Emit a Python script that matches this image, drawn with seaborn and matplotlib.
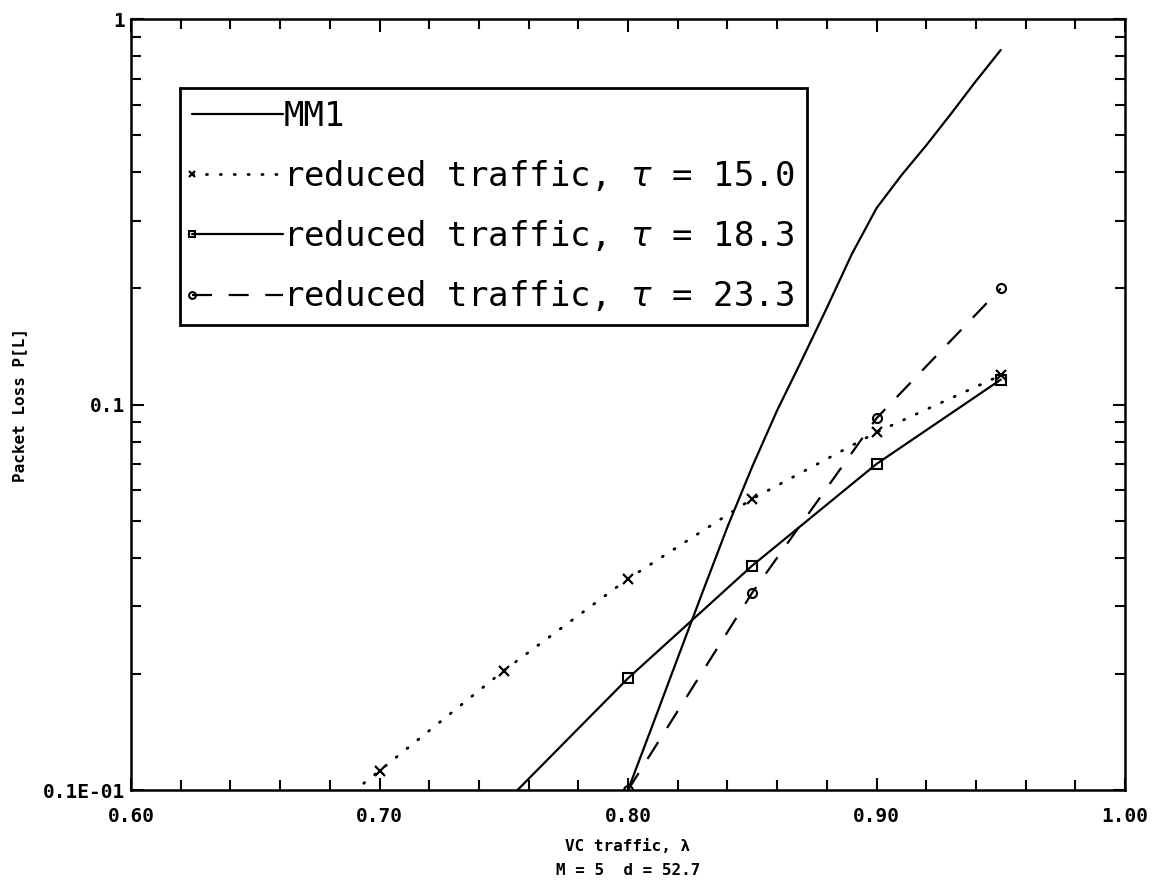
import numpy as np
import pandas as pd
import matplotlib
matplotlib.use("Agg")
import matplotlib.pyplot as plt
import seaborn as sns
from matplotlib.lines import Line2D
from matplotlib.legend_handler import HandlerLine2D
from matplotlib.ticker import LogLocator, FixedLocator, NullFormatter, FixedFormatter

# ---------------- data ----------------
mm1_x = [0.79, 0.80, 0.81, 0.82, 0.83, 0.84, 0.85, 0.86, 0.87, 0.88, 0.89,
         0.90, 0.91, 0.92, 0.93, 0.94, 0.95]
mm1_y = [0.0068, 0.0100, 0.0148, 0.0220, 0.0326, 0.0481, 0.0690, 0.0965, 0.1306,
         0.178, 0.245, 0.323, 0.393, 0.470, 0.568, 0.690, 0.831]

t150_x = [0.65, 0.70, 0.75, 0.80, 0.85, 0.90, 0.95]
t150_y = [0.0062, 0.01122, 0.0204, 0.0353, 0.0569, 0.0847, 0.119]

t183_x = [0.75, 0.80, 0.85, 0.90, 0.95]
t183_y = [0.0092, 0.01949, 0.0382, 0.0701, 0.116]

t233_x = [0.80, 0.85, 0.90, 0.95]
t233_y = [0.0100, 0.0325, 0.0921, 0.200]

labels = ["MM1",
          r"reduced traffic, $\tau$ = 15.0",
          r"reduced traffic, $\tau$ = 18.3",
          r"reduced traffic, $\tau$ = 23.3"]

x_ticks = [0.60, 0.70, 0.80, 0.90, 1.00]
x_ticklabels = ["0.60", "0.70", "0.80", "0.90", "1.00"]
y_ticks = [0.01, 0.1, 1.0]
y_ticklabels = ["0.1E-01", "0.1", "1"]

# ---------------- style ----------------
sns.set_style("ticks")
plt.rcParams["font.family"] = ["DejaVu Sans"]
plt.rcParams["mathtext.fontset"] = "dejavusans"
plt.rcParams["text.color"] = "black"
plt.rcParams["axes.labelcolor"] = "black"
plt.rcParams["xtick.color"] = "black"
plt.rcParams["ytick.color"] = "black"

fig = plt.figure(figsize=(11.54, 8.81), dpi=100)
ax = fig.add_axes([131 / 1154, 1 - 790 / 881, 994 / 1154, 771 / 881])

lw = 1.6
sns.lineplot(x=mm1_x, y=mm1_y, ax=ax, color="black", lw=lw, sort=False,
             estimator=None, label=labels[0])
sns.lineplot(x=t150_x, y=t150_y, ax=ax, color="black", lw=2.0, sort=False,
             estimator=None, label=labels[1], marker="x", markersize=6.5,
             markeredgewidth=1.6, markeredgecolor="black",
             linestyle=(0, (0.4, 4.6)), dash_capstyle="round")
sns.lineplot(x=t183_x, y=t183_y, ax=ax, color="black", lw=lw, sort=False,
             estimator=None, label=labels[2], marker="s", markersize=6.5,
             markerfacecolor="none", markeredgecolor="black", markeredgewidth=1.5)
sns.lineplot(x=t233_x, y=t233_y, ax=ax, color="black", lw=lw, sort=False,
             estimator=None, label=labels[3], marker="o", markersize=6.5,
             markerfacecolor="none", markeredgecolor="black", markeredgewidth=1.5,
             linestyle=(0, (9, 7.5)))

ax.set_yscale("log")
ax.set_xlim(0.60, 1.00)
ax.set_ylim(0.01, 1.0)

ax.xaxis.set_major_locator(FixedLocator(x_ticks))
ax.xaxis.set_major_formatter(FixedFormatter(x_ticklabels))
ax.xaxis.set_minor_locator(FixedLocator(np.round(np.arange(0.60, 1.001, 0.02), 2)))
ax.yaxis.set_major_locator(FixedLocator(y_ticks))
ax.yaxis.set_major_formatter(FixedFormatter(y_ticklabels))
ax.yaxis.set_minor_locator(LogLocator(base=10, subs=np.arange(2, 10), numticks=20))
ax.yaxis.set_minor_formatter(NullFormatter())

ax.tick_params(axis="both", which="both", direction="in", top=True, right=True,
               color="black", width=1.5)
ax.tick_params(axis="both", which="major", length=9)
ax.tick_params(axis="both", which="minor", length=7)
ax.tick_params(axis="x", which="major", pad=12)
ax.tick_params(axis="y", which="major", pad=4)
for lab in ax.get_xticklabels() + ax.get_yticklabels():
    lab.set_family("DejaVu Sans Mono")
    lab.set_fontweight("bold")
    lab.set_fontsize(14)

for s in ax.spines.values():
    s.set_linewidth(1.8)
    s.set_color("black")

ax.set_ylabel("Packet Loss P[L]", fontsize=11.5, fontweight="bold",
              family="DejaVu Sans Mono")
ax.yaxis.set_label_coords(-0.104, 0.5)
ax.set_xlabel("VC traffic, λ\nM = 5  d = 52.7", fontsize=11.5, fontweight="bold",
              family="DejaVu Sans Mono", linespacing=1.75)
ax.xaxis.set_label_coords(0.5, -0.063)


class LeftMarkerHandler(HandlerLine2D):
    def create_artists(self, legend, orig_handle, xdescent, ydescent, width,
                       height, fontsize, trans):
        xdata = np.array([-xdescent, -xdescent + width])
        ydata = np.full_like(xdata, (height - ydescent) / 2)
        legline = Line2D(xdata, ydata, markevery=[0])
        self.update_prop(legline, orig_handle, legend)
        if legend.markerscale != 1:
            legline.set_markersize(legline.get_markersize() * legend.markerscale)
        legline.set_transform(trans)
        return [legline]


handles, labs = ax.get_legend_handles_labels()
leg = ax.legend(handles, labs, loc="upper left", bbox_to_anchor=(0.049, 0.9105),
                borderaxespad=0, frameon=True, fancybox=False, shadow=False,
                prop={"family": "DejaVu Sans Mono", "size": 24.5},
                handlelength=2.7, handletextpad=0.0, labelspacing=0.74,
                borderpad=0.35, numpoints=1, markerscale=0.75,
                handler_map={h: LeftMarkerHandler() for h in handles})
leg.get_frame().set_edgecolor("black")
leg.get_frame().set_linewidth(2.0)
leg.get_frame().set_alpha(1)

fig.savefig("out.png", dpi=100)
